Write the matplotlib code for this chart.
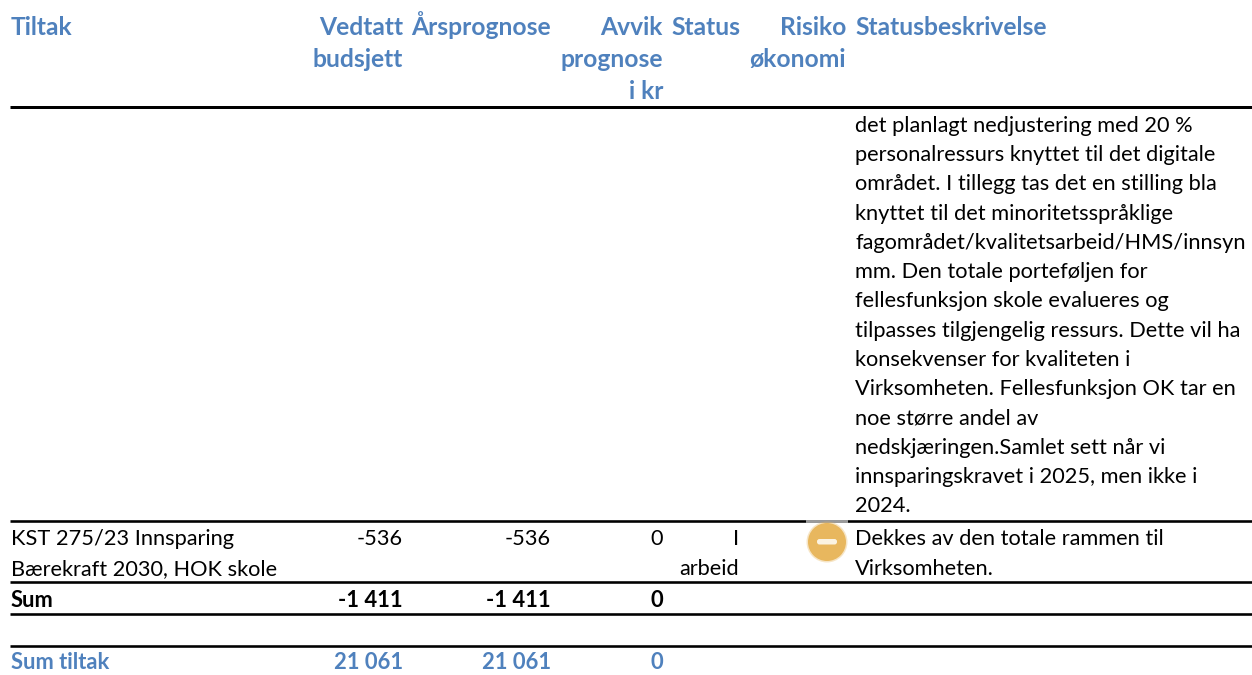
import matplotlib
matplotlib.use("Agg")
import matplotlib.pyplot as plt
from matplotlib.patches import Circle, FancyBboxPatch, Rectangle

BLUE = "#4F81BD"
ORANGE = "#E8B75E"
FONT = "Lato"
SIZE = 15.7
SIZE_BOLD = 15.8
SIZE_HEAD = 17.7

headers = ["Tiltak", "Vedtatt\nbudsjett", "Årsprognose", "Avvik\nprognose\ni kr", "Status", "Risiko\nøkonomi", "Statusbeskrivelse"]
description = [
    "det planlagt nedjustering med 20 %",
    "personalressurs knyttet til det digitale",
    "området. I tillegg tas det en stilling bla",
    "knyttet til det minoritetsspråklige",
    "fagområdet/kvalitetsarbeid/HMS/innsyn",
    "mm. Den totale porteføljen for",
    "fellesfunksjon skole evalueres og",
    "tilpasses tilgjengelig ressurs. Dette vil ha",
    "konsekvenser for kvaliteten i",
    "Virksomheten. Fellesfunksjon OK tar en",
    "noe større andel av",
    "nedskjæringen.Samlet sett når vi",
    "innsparingskravet i 2025, men ikke i",
    "2024.",
]
row_name = ["KST 275/23 Innsparing", "Bærekraft 2030, HOK skole"]
row_values = ["-536", "-536", "0"]
row_status = ["I", "arbeid"]
row_note = ["Dekkes av den totale rammen til", "Virksomheten."]
sum_values = ["-1 411", "-1 411", "0"]
total_values = ["21 061", "21 061", "0"]

# pixel layout of the table
col_x = [11, 403, 551, 663, 740, 846, 855]
col_ha = ["left", "right", "right", "right", "right", "right", "left"]
value_x = col_x[1:4]
header_y = [35, 67, 99]
rules = [(107, 3.0), (521, 2.6), (582, 2.6), (614, 2.6), (646, 2.6)]

fig = plt.figure(figsize=(12.52, 6.75), dpi=100)
ax = fig.add_axes([0, 0, 1, 1])
ax.set_xlim(0, 1252)
ax.set_ylim(675, 0)
ax.axis("off")


def put(x, y, s, ha="left", color="black", bold=False, size=SIZE):
    ax.text(x, y, s, ha=ha, va="baseline", color=color, family=FONT, fontsize=size,
            fontweight="bold" if bold else "normal")


for x, ha, head in zip(col_x, col_ha, headers):
    for y, part in zip(header_y, head.split("\n")):
        put(x, y, part, ha=ha, color=BLUE, bold=True, size=SIZE_HEAD)

for y, rule_w in rules:
    ax.plot([10, 1252], [y, y], color="black", lw=rule_w * 0.72, solid_capstyle="butt")

for i, line in enumerate(description):
    put(855, 132 + i * 29.23, line)

for y, name in zip([545, 575], row_name):
    put(11, y, name)
for x, val in zip(value_x, row_values):
    put(x, 545, val, ha="right")
for y, st in zip([545, 575], row_status):
    put(739, y, st, ha="right")
for y, note in zip([545, 575], row_note):
    put(855, y, note)

put(11, 607, "Sum", bold=True, size=SIZE_BOLD)
for x, val in zip(value_x, sum_values):
    put(x, 607, val, ha="right", bold=True, size=SIZE_BOLD)

put(11, 669, "Sum tiltak", color=BLUE, bold=True, size=SIZE_BOLD)
for x, val in zip(value_x, total_values):
    put(x, 669, val, ha="right", color=BLUE, bold=True, size=SIZE_BOLD)

# risk icon, sits on a white box that clips the rule a bit
ax.add_patch(Rectangle((806, 519.6), 42, 3, fc="#9a9a9a", ec="none", zorder=3))
ax.add_patch(Circle((827, 542), 20.5, fc=ORANGE, ec="none", alpha=0.35, zorder=4))
ax.add_patch(Circle((827, 542), 19, fc=ORANGE, ec="none", zorder=4))
ax.add_patch(FancyBboxPatch((817, 539), 20, 5.5, boxstyle="round,pad=0,rounding_size=2.5",
                            fc="#FBF3E2", ec="none", zorder=5))

fig.savefig("out.png", dpi=100)
